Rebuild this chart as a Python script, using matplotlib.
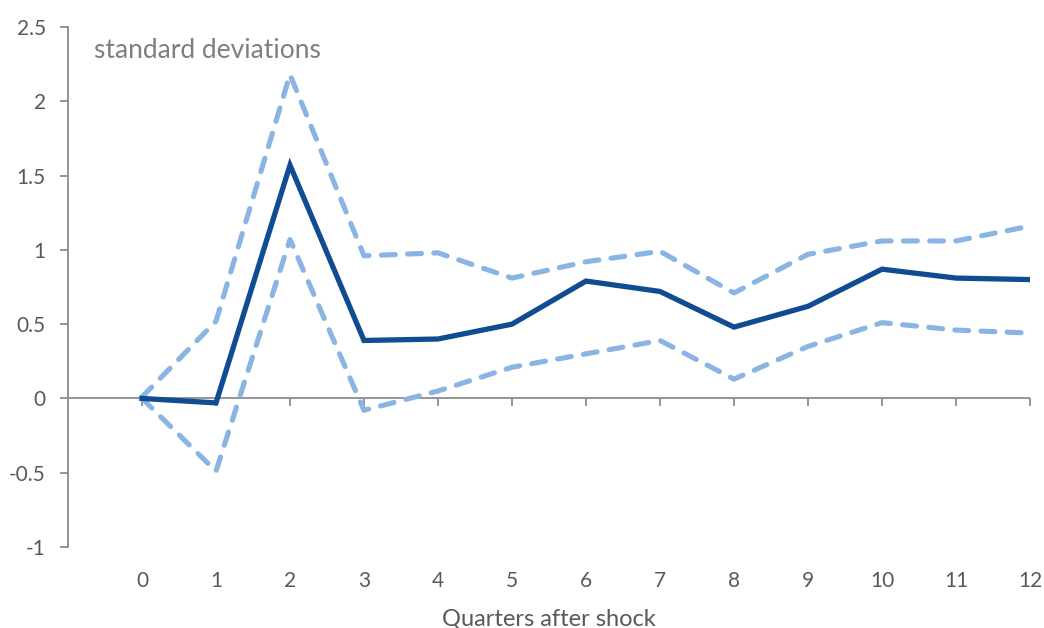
import matplotlib
matplotlib.use('Agg')
import matplotlib.pyplot as plt

# data
quarters = [0, 1, 2, 3, 4, 5, 6, 7, 8, 9, 10, 11, 12]
response = [0.0, -0.03, 1.57, 0.39, 0.40, 0.50, 0.79, 0.72, 0.48, 0.62, 0.87, 0.81, 0.80]
upper = [0.01, 0.52, 2.18, 0.96, 0.98, 0.81, 0.92, 0.99, 0.71, 0.97, 1.06, 1.06, 1.16]
lower = [0.0, -0.49, 1.07, -0.08, 0.05, 0.21, 0.30, 0.39, 0.13, 0.35, 0.51, 0.46, 0.44]
y_ticks = [-1, -0.5, 0, 0.5, 1, 1.5, 2, 2.5]
y_labels = ['-1', '-0.5', '0', '0.5', '1', '1.5', '2', '2.5']

plt.rcParams['font.family'] = ['Lato', 'DejaVu Sans']
txt_col = '#595959'
axis_col = '#8c8c8c'
dark = '#0f4c92'
light = '#8ab4e4'

fig = plt.figure(figsize=(10.44, 6.28), dpi=100)
ax = fig.add_axes([68/1044, 1-547/628, (1030-68)/1044, (547-27)/628])

ax.plot(quarters, upper, color=light, lw=3.7, dashes=(2.7, 2.4),
        dash_capstyle='round', solid_joinstyle='round', zorder=3)
ax.plot(quarters, lower, color=light, lw=3.7, dashes=(2.7, 2.4),
        dash_capstyle='round', solid_joinstyle='round', zorder=3)
ax.plot(quarters, response, color=dark, lw=3.8, solid_joinstyle='miter', zorder=4)

ax.set_xlim(-1, 12)
ax.set_ylim(-1, 2.5)

# zero line with category ticks
ax.axhline(0, color=axis_col, lw=1.3, zorder=2)
sec = ax.secondary_xaxis(1/3.5)
sec.set_xticks(quarters)
sec.set_xticklabels([])
sec.tick_params(axis='x', direction='out', length=6, width=1.3, color=axis_col)
sec.spines['bottom'].set_visible(False)
sec.spines['top'].set_visible(False)

ax.set_xticks(quarters)
ax.set_xticklabels([str(q) for q in quarters])
ax.tick_params(axis='x', length=0, pad=17, labelsize=15, labelcolor=txt_col)
ax.set_xlabel('Quarters after shock', fontsize=17, color=txt_col, labelpad=13)

ax.set_yticks(y_ticks)
ax.set_yticklabels(y_labels)
ax.tick_params(axis='y', direction='out', length=6, width=1.3, color=axis_col,
               labelsize=15, labelcolor=txt_col, pad=10)

for s in ['top', 'right', 'bottom']:
    ax.spines[s].set_visible(False)
ax.spines['left'].set_color(axis_col)
ax.spines['left'].set_linewidth(1.3)

ax.text(-0.65, 2.34, 'standard deviations', fontsize=19, color='#7f7f7f',
        ha='left', va='center')

fig.savefig('out.png', dpi=100)
